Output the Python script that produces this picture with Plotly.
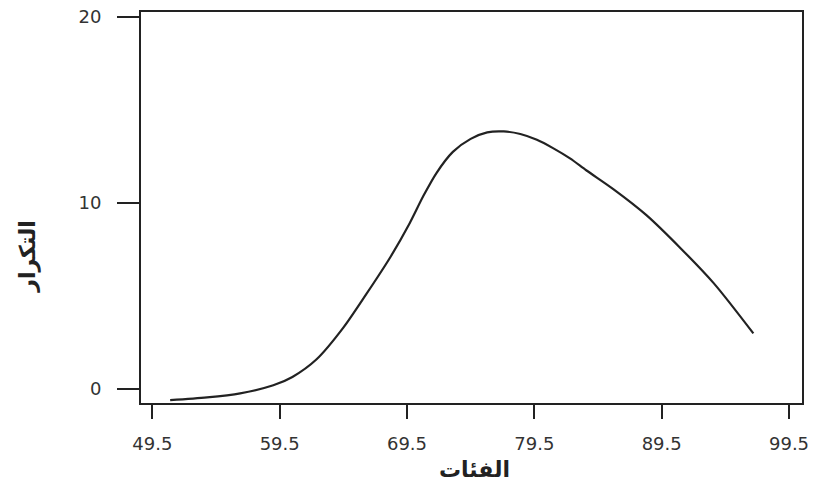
import plotly.graph_objects as go

# Data
x_vals = [50.9, 53.8, 56.4, 59.0, 60.5, 62.4, 64.5, 66.3, 68.2, 69.7, 70.8, 71.8,
          73.1, 74.5, 75.8, 77.1, 78.4, 79.7, 81.0, 82.3, 83.6, 85.7, 88.3, 91.0,
          93.6, 96.7]
y_vals = [-0.6, -0.45, -0.23, 0.2, 0.65, 1.6, 3.3, 5.1, 7.1, 8.9, 10.4, 11.6,
          12.75, 13.45, 13.8, 13.85, 13.71, 13.4, 12.94, 12.4, 11.75, 10.75, 9.35, 7.56,
          5.68, 2.99]
x_ticks = [49.5, 59.5, 69.5, 79.5, 89.5, 99.5]
x_tick_labels = ["49.5", "59.5", "69.5", "79.5", "89.5", "99.5"]
y_ticks = [0, 10, 20]
y_tick_labels = ["0", "10", "20"]
x_title = "الفئات"
y_title = "التكرار"

fig = go.Figure()
fig.add_trace(go.Scatter(
    x=x_vals, y=y_vals, mode="lines",
    line=dict(color="#222222", width=2.2, shape="spline", smoothing=0.8),
    hoverinfo="skip", showlegend=False,
))

tick_font = dict(family="DejaVu Sans, Arial, sans-serif", size=18, color="#333333")

fig.update_layout(
    width=813, height=482,
    margin=dict(l=141, r=11, t=12, b=79, autoexpand=False),
    paper_bgcolor="white", plot_bgcolor="white",
    showlegend=False,
    xaxis=dict(
        range=[48.61, 100.52], tickvals=x_ticks, ticktext=x_tick_labels,
        showgrid=False, zeroline=False, showline=True, mirror=True,
        linecolor="#222222", linewidth=2, automargin=False,
        ticks="outside", ticklen=14, tickwidth=2, tickcolor="#222222",
        tickfont=tick_font, ticklabelstandoff=9,
    ),
    yaxis=dict(
        range=[-0.75, 20.27], tickvals=y_ticks, ticktext=y_tick_labels,
        showgrid=False, zeroline=False, showline=True, mirror=True,
        linecolor="#222222", linewidth=2, automargin=False,
        ticks="outside", ticklen=22, tickwidth=2, tickcolor="#222222",
        tickfont=tick_font, ticklabelstandoff=12,
    ),
    annotations=[
        dict(text="<b>" + x_title + "</b>", xref="paper", yref="paper",
             x=0.505, y=-0.171, xanchor="center", yanchor="middle", showarrow=False,
             font=dict(family="DejaVu Sans, sans-serif", size=22, color="#222222")),
        dict(text="<b>" + y_title + "</b>", xref="paper", yref="paper",
             x=-0.170, y=0.373, xanchor="center", yanchor="middle", showarrow=False,
             textangle=-90,
             font=dict(family="DejaVu Sans, sans-serif", size=22, color="#222222")),
    ],
)

fig.write_html("out.html", config={"displayModeBar": False},
               post_script="document.body.style.margin='0';document.body.style.padding='0';")
